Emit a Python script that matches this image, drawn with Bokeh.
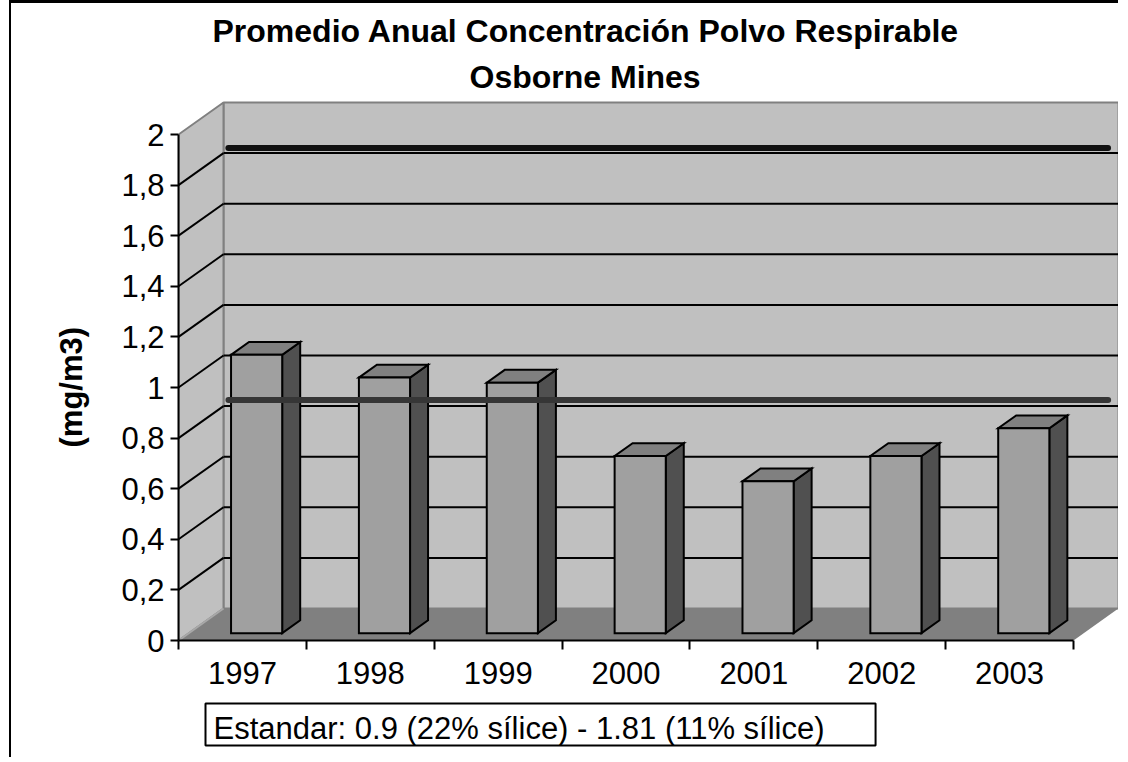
import numpy as np
from bokeh.plotting import figure
from bokeh.models import Range1d, FixedTicker, CustomJSTickFormatter, Title
from bokeh.embed import file_html
from bokeh.resources import INLINE

# ---------------- data ----------------
years = ["1997", "1998", "1999", "2000", "2001", "2002", "2003"]
conc = [1.10, 1.01, 0.99, 0.70, 0.60, 0.70, 0.81]
y_ticks = [0, 0.2, 0.4, 0.6, 0.8, 1.0, 1.2, 1.4, 1.6, 1.8, 2.0]
standards = [0.9, 1.81]
title_lines = ["Promedio Anual Concentración Polvo Respirable", "Osborne Mines"]
y_label = "(mg/m3)"
note = "Estandar: 0.9 (22% sílice) - 1.81 (11% sílice)"

# ---------------- style / geometry ----------------
FONT = "Liberation Sans"
CAT_PX = 127.86          # pixels per category
VAL_PX = 253.0           # pixels per value unit
DX = 45.0 / CAT_PX       # full depth offset (x, category units)
DY = 32.0 / VAL_PX       # full depth offset (y, value units)
N = len(years)
YMAX = y_ticks[-1]
BAR_LEFT, BAR_W = 0.33, 0.40
D0, D1 = 0.23, 0.63      # bar depth extent (fraction of full depth)
std_depth = [0.40, 1.08]
std_span = [(0.25, 7.13), (0.01, 6.89)]
std_color = ["#363636", "#111111"]

W, H = 1109, 757
p = figure(width=W, height=H, output_backend="svg", toolbar_location=None, title=None,
           x_range=Range1d(0, (1120 - 178) / CAT_PX),
           y_range=Range1d(0, (640 - 100) / VAL_PX),
           min_border_left=167, min_border_right=0, min_border_top=97,
           min_border_bottom=120,
           background_fill_color="white", border_fill_color="white",
           outline_line_color=None,
           styles={"border-top": "3px solid black", "border-left": "2px solid black",
                   "margin-left": "9px", "margin-top": "0px"})
p.xgrid.visible = False
p.ygrid.visible = False

# ---------------- walls & floor ----------------
p.patch([DX, N + DX, N + DX, DX], [DY, DY, YMAX + DY, YMAX + DY],
        fill_color="#c0c0c0", line_color="#808080", line_width=2)
p.patch([0, DX, DX, 0], [0, DY, YMAX + DY, YMAX],
        fill_color="#c0c0c0", line_color="#808080", line_width=2)
p.patch([0, N, N + DX, DX], [0, 0, DY, DY],
        fill_color="#808080", line_color=None)
p.line([0, DX], [0, DY], line_color="#a8a8a8", line_width=2)

grid_vals = [t for t in y_ticks if 0 < t < YMAX]
p.multi_line([[DX, N + DX] for t in grid_vals], [[t + DY, t + DY] for t in grid_vals],
             line_color="black", line_width=2)
p.multi_line([[0, DX] for t in grid_vals], [[t, t + DY] for t in grid_vals],
             line_color="black", line_width=2)


def std_line(k):
    d = std_depth[k]
    x0, x1 = std_span[k]
    p.line([x0 + d * DX, x1 + d * DX], [standards[k] + d * DY] * 2,
           line_color=std_color[k], line_width=6, line_cap="round")


# upper standard line (behind bars)
std_line(1)

# ---------------- bars ----------------
fx, fy, tx, ty, sx, sy = [], [], [], [], [], []
for i, v in enumerate(conc):
    x0 = i + BAR_LEFT
    x1 = x0 + BAR_W
    a0x, a0y = D0 * DX, D0 * DY
    a1x, a1y = D1 * DX, D1 * DY
    fx.append([x0 + a0x, x1 + a0x, x1 + a0x, x0 + a0x])
    fy.append([a0y, a0y, v + a0y, v + a0y])
    tx.append([x0 + a0x, x1 + a0x, x1 + a1x, x0 + a1x])
    ty.append([v + a0y, v + a0y, v + a1y, v + a1y])
    sx.append([x1 + a0x, x1 + a1x, x1 + a1x, x1 + a0x])
    sy.append([a0y, a1y, v + a1y, v + a0y])

p.patches(sx, sy, fill_color="#505050", line_color="black", line_width=2, line_join="miter")
p.patches(tx, ty, fill_color="#808080", line_color="black", line_width=2, line_join="miter")
p.patches(fx, fy, fill_color="#a0a0a0", line_color="black", line_width=2, line_join="miter")

# lower standard line (in front of bars)
std_line(0)

# ---------------- axes ----------------
xa = p.xaxis[0]
xa.ticker = FixedTicker(ticks=[i + 0.5 for i in range(N)], minor_ticks=list(range(N + 1)))
xa.major_label_overrides = {i + 0.5: y for i, y in enumerate(years)}
xa.bounds = (0, N)
xa.major_tick_out = 0
xa.major_tick_in = 0
xa.minor_tick_out = 9
xa.minor_tick_in = 0
xa.minor_tick_line_width = 2
xa.minor_tick_line_color = "black"
xa.axis_line_width = 2
xa.axis_line_color = "black"
xa.major_label_text_font = FONT
xa.major_label_text_font_size = "31px"
xa.major_label_text_color = "black"
xa.major_label_standoff = 12

ya = p.yaxis[0]
ya.ticker = FixedTicker(ticks=y_ticks)
ya.formatter = CustomJSTickFormatter(
    code="var s = (Math.round(tick*10)/10).toString(); return s.replace('.', ',');")
ya.bounds = (0, YMAX)
ya.major_tick_out = 8
ya.major_tick_in = 0
ya.minor_tick_out = 0
ya.minor_tick_in = 0
ya.major_tick_line_width = 2
ya.axis_line_width = 2
ya.axis_line_color = "black"
ya.major_label_text_font = FONT
ya.major_label_text_font_size = "31px"
ya.major_label_text_color = "black"
ya.major_label_standoff = 6

# y-axis title (side title so it can sit a bit lower, like the reference)
ty_title = Title(text=y_label, align="left", offset=193, standoff=59,
                 text_font=FONT, text_font_style="bold", text_font_size="31px",
                 text_color="black")
p.add_layout(ty_title, "left")

# ---------------- titles & note ----------------
t2 = Title(text=title_lines[1], align="left", offset=291, standoff=12,
           text_font=FONT, text_font_style="bold", text_font_size="32px", text_color="black")
t1 = Title(text=title_lines[0], align="left", offset=34, standoff=4,
           text_font=FONT, text_font_style="bold", text_font_size="32px", text_color="black")
p.add_layout(t2, "above")
p.add_layout(t1, "above")

tn = Title(text=note, align="left", offset=27, standoff=30,
           text_font=FONT, text_font_style="normal", text_font_size="31px", text_color="black",
           border_line_color="black", border_line_width=2, background_fill_color="white",
           padding=dict(left=8, right=51, top=7, bottom=0))
p.add_layout(tn, "below")

open("out.html", "w").write(file_html(p, INLINE))
